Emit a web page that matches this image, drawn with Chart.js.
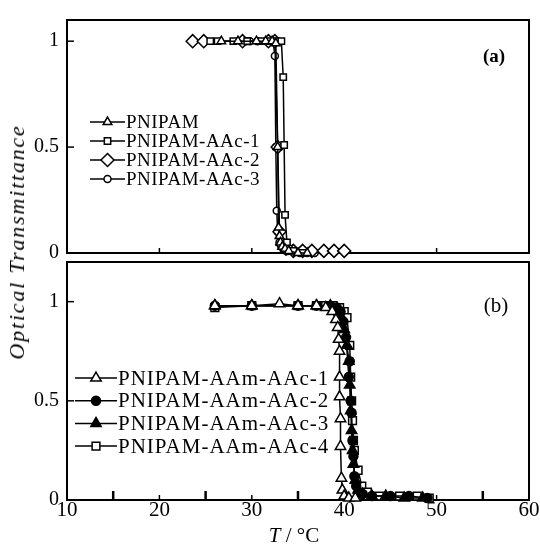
<!DOCTYPE html>
<html><head><meta charset="utf-8">
<script src="https://cdn.jsdelivr.net/npm/chart.js@4.4.1/dist/chart.umd.min.js"></script>
<style>
html,body{margin:0;padding:0;background:#fff;}
#wrap{position:relative;width:540px;height:547px;background:#fff;overflow:hidden;}
canvas{position:absolute;left:0;top:0;}
.lbl{position:absolute;font-family:"Liberation Serif","Times New Roman",serif;color:#000;white-space:nowrap;line-height:1;}
</style></head><body>
<div id="wrap">
<canvas id="ca" width="540" height="547" style="width:540px;height:547px"></canvas>
<canvas id="cb" width="540" height="547" style="width:540px;height:547px"></canvas>
<div class="lbl" id="ytitle" style="left:17px;top:242px;font-size:22px;font-style:italic;letter-spacing:1.8px;transform:translate(-50%,-50%) rotate(-90deg);">Optical Transmittance</div>
<div class="lbl" id="xtitle" style="left:294px;top:535px;font-size:21px;transform:translate(-50%,-50%);"><i>T</i> / °C</div>
<div class="lbl" id="la" style="left:494px;top:55px;font-size:19px;font-weight:bold;transform:translate(-50%,-50%);">(a)</div>
<div class="lbl" id="lb" style="left:496px;top:305px;font-size:21px;transform:translate(-50%,-50%);">(b)</div>
</div>
<script>
// ---------- data ----------
const xTickValues = [10, 20, 30, 40, 50, 60];
const yTickValues = [0, 0.5, 1];
const yTickLabels = ['0', '0.5', '1'];

// panel (a)
const namesA = ['PNIPAM', 'PNIPAM-AAc-1', 'PNIPAM-AAc-2', 'PNIPAM-AAc-3'];
const tA1 = [26.7, 28.5, 30.5, 31.5, 32.2, 32.6, 32.8, 32.9, 33.0, 33.1, 33.3, 33.6, 34.0, 35.0, 36.0];
const yA1 = [1.00, 1.00, 1.00, 1.00, 1.00, 0.99, 0.50, 0.12, 0.08, 0.05, 0.03, 0.02, 0.01, 0.00, 0.00];
const tA2 = [25.5, 26.3, 28.0, 29.5, 31.0, 32.0, 32.6, 33.2, 33.4, 33.5, 33.6, 33.8, 34.0, 34.5, 35.5];
const yA2 = [1.00, 1.00, 1.00, 1.00, 1.00, 1.00, 1.00, 1.00, 0.83, 0.51, 0.18, 0.05, 0.02, 0.01, 0.00];
const tA3 = [23.6, 24.8, 29.0, 31.8, 32.5, 32.8, 33.0, 33.3, 33.7, 34.5, 35.5, 36.5, 37.8, 38.9, 40.0];
const yA3 = [1.00, 1.00, 1.00, 1.00, 1.00, 0.50, 0.10, 0.04, 0.02, 0.01, 0.01, 0.01, 0.01, 0.01, 0.01];
const tA4 = [29.4, 29.8, 30.6, 31.8, 32.3, 32.5, 32.6, 32.7, 32.8, 33.0, 33.2, 33.5, 33.9, 34.4, 35.2, 36.0, 36.8];
const yA4 = [1.00, 1.00, 1.00, 1.00, 1.00, 0.93, 0.50, 0.20, 0.10, 0.05, 0.03, 0.02, 0.01, 0.01, 0.00, 0.00, 0.00];

// panel (b)
const namesB = ['PNIPAM-AAm-AAc-1', 'PNIPAM-AAm-AAc-2', 'PNIPAM-AAm-AAc-3', 'PNIPAM-AAm-AAc-4'];
const tB1 = [26.0, 30.0, 33.0, 35.0, 37.0, 38.0, 38.7, 39.1, 39.3, 39.4, 39.5, 39.5, 39.5, 39.6, 39.6, 39.7, 39.8, 40.0, 40.5, 41.2];
const yB1 = [0.98, 0.98, 0.99, 0.98, 0.98, 0.97, 0.95, 0.91, 0.87, 0.81, 0.75, 0.62, 0.52, 0.41, 0.27, 0.11, 0.05, 0.02, 0.01, 0.01];
const tB2 = [26.0, 30.0, 35.0, 37.0, 38.5, 39.2, 39.6, 39.9, 40.2, 40.5, 40.6, 40.7, 40.8, 40.9, 41.0, 41.1, 41.3, 41.6, 42.0, 43.0, 45.0, 47.0, 49.0];
const yB2 = [0.98, 0.98, 0.98, 0.98, 0.98, 0.97, 0.95, 0.90, 0.82, 0.62, 0.70, 0.50, 0.44, 0.30, 0.22, 0.12, 0.07, 0.04, 0.03, 0.02, 0.02, 0.02, 0.01];
const tB3 = [26.0, 30.0, 35.0, 37.0, 38.5, 39.2, 39.6, 40.0, 40.3, 40.5, 40.6, 40.7, 40.8, 40.9, 41.0, 41.2, 41.5, 42.0, 43.0, 44.5, 46.5, 48.5];
const yB3 = [0.98, 0.98, 0.98, 0.98, 0.98, 0.96, 0.93, 0.86, 0.78, 0.70, 0.58, 0.45, 0.35, 0.25, 0.18, 0.10, 0.05, 0.03, 0.02, 0.02, 0.01, 0.01];
const tB4 = [26.0, 30.0, 35.0, 37.0, 38.0, 38.8, 39.5, 40.0, 40.3, 40.6, 40.7, 40.8, 40.9, 41.0, 41.1, 41.5, 41.9, 42.5, 43.8, 46.0, 47.9, 49.2];
const yB4 = [0.97, 0.98, 0.98, 0.98, 0.98, 0.98, 0.97, 0.95, 0.92, 0.78, 0.62, 0.50, 0.40, 0.30, 0.25, 0.15, 0.07, 0.04, 0.02, 0.02, 0.02, 0.01];

// ---------- helpers ----------
const FONT = '"Liberation Serif", "Times New Roman", serif';
const pts = (xs, ys) => xs.map((x, i) => ({x, y: ys[i]}));

function marker(ctx, style, r, x, y, fill) {
  ctx.beginPath();
  if (style === 'triangle') {
    let rad = 0;
    for (let k = 0; k < 3; k++) {
      const px = x + Math.sin(rad) * r, py = y - Math.cos(rad) * r;
      k ? ctx.lineTo(px, py) : ctx.moveTo(px, py);
      rad += 2 * Math.PI / 3;
    }
    ctx.closePath();
  } else if (style === 'rect') {
    const s = Math.SQRT1_2 * r;
    ctx.rect(x - s, y - s, 2 * s, 2 * s);
  } else if (style === 'rectRot') {
    ctx.moveTo(x, y - r); ctx.lineTo(x + r, y); ctx.lineTo(x, y + r); ctx.lineTo(x - r, y); ctx.closePath();
  } else {
    ctx.arc(x, y, r, 0, Math.PI * 2);
  }
  ctx.fillStyle = fill; ctx.fill(); ctx.stroke();
}

const framePlugin = {
  id: 'frame',
  beforeDatasetsDraw(chart, args, o) {
    const {ctx, chartArea: a, scales} = chart;
    ctx.save();
    ctx.strokeStyle = '#000';
    ctx.lineWidth = 2;
    ctx.strokeRect(a.left, a.top, a.right - a.left, a.bottom - a.top);
    ctx.lineWidth = 1.5;
    o.yTicks.forEach(v => {
      const y = scales.y.getPixelForValue(v);
      ctx.beginPath(); ctx.moveTo(a.left, y); ctx.lineTo(a.left + 7, y); ctx.stroke();
    });
    o.xSmall.forEach(v => {
      const x = scales.x.getPixelForValue(v);
      ctx.beginPath(); ctx.moveTo(x, a.bottom); ctx.lineTo(x, a.bottom - 5); ctx.stroke();
    });
    ctx.lineWidth = 2.5;
    o.xBig.forEach(v => {
      const x = scales.x.getPixelForValue(v);
      ctx.beginPath(); ctx.moveTo(x, a.bottom); ctx.lineTo(x, a.bottom - 9); ctx.stroke();
    });
    ctx.restore();
  }
};

const legendPlugin = {
  id: 'lineLegend',
  afterDatasetsDraw(chart, args, o) {
    const {ctx} = chart;
    ctx.save();
    ctx.font = o.font;
    if ('letterSpacing' in ctx) ctx.letterSpacing = o.spacing;
    ctx.textBaseline = 'middle';
    chart.data.datasets.forEach((ds, i) => {
      const y = o.y0 + i * o.dy;
      ctx.strokeStyle = '#000'; ctx.lineWidth = 1.5;
      ctx.beginPath(); ctx.moveTo(o.x0, y); ctx.lineTo(o.x1, y); ctx.stroke();
      marker(ctx, ds.pointStyle, ds.pointRadius, (o.x0 + o.x1) / 2, y, ds.pointBackgroundColor);
      ctx.fillStyle = '#000';
      ctx.fillText(ds.label, o.x1 + 1, y + 1);
    });
    ctx.restore();
  }
};

function ds(label, xs, ys, style, r, fill) {
  return {
    label, data: pts(xs, ys), showLine: true,
    borderColor: '#000', borderWidth: 1.5, backgroundColor: fill,
    pointStyle: style, pointRadius: r, pointHoverRadius: r,
    pointBackgroundColor: fill, pointBorderColor: '#000', pointBorderWidth: 1.5,
    clip: false, tension: 0
  };
}

function yAxis(max) {
  return {
    type: 'linear', min: 0, max,
    afterBuildTicks: s => { s.ticks = yTickValues.map(v => ({value: v})); },
    afterFit: s => { s.width = 67; },
    grid: {display: false, drawTicks: false}, border: {display: false},
    ticks: {
      color: '#000', font: {family: FONT, size: 20}, padding: 8,
      callback: v => yTickLabels[yTickValues.indexOf(v)]
    }
  };
}

// ---------- chart (a) ----------
new Chart(document.getElementById('ca'), {
  type: 'scatter',
  data: {datasets: [
    ds(namesA[0], tA1, yA1, 'triangle', 5, '#fff'),
    ds(namesA[1], tA2, yA2, 'rect', 4.5, '#fff'),
    ds(namesA[2], tA3, yA3, 'rectRot', 6.5, '#fff'),
    ds(namesA[3], tA4, yA4, 'circle', 3.5, '#fff')
  ]},
  options: {
    responsive: false, animation: false, devicePixelRatio: 1,
    layout: {padding: {left: 0, right: 11, top: 15, bottom: 294}},
    plugins: {
      legend: {display: false}, tooltip: {enabled: false},
      frame: {yTicks: [0.5, 1], xSmall: [20, 30, 40, 50], xBig: []},
      lineLegend: {x0: 90, x1: 125, y0: 122, dy: 19, font: '19px ' + FONT, spacing: '0.5px'}
    },
    scales: {
      x: {type: 'linear', min: 10, max: 60, display: false},
      y: yAxis(1.1)
    }
  },
  plugins: [framePlugin, legendPlugin]
});

// ---------- chart (b) ----------
new Chart(document.getElementById('cb'), {
  type: 'scatter',
  data: {datasets: [
    ds(namesB[0], tB1, yB1, 'triangle', 6, '#fff'),
    ds(namesB[1], tB2, yB2, 'circle', 4.5, '#000'),
    ds(namesB[2], tB3, yB3, 'triangle', 6, '#000'),
    ds(namesB[3], tB4, yB4, 'rect', 5.5, '#fff')
  ]},
  options: {
    responsive: false, animation: false, devicePixelRatio: 1,
    layout: {padding: {left: 0, right: 11, top: 262, bottom: 0}},
    plugins: {
      legend: {display: false}, tooltip: {enabled: false},
      frame: {yTicks: [0.5, 1], xSmall: [20, 30, 40, 50], xBig: [15, 25, 35, 45, 55]},
      lineLegend: {x0: 75, x1: 117, y0: 378, dy: 22.7, font: '21px ' + FONT, spacing: '1px'}
    },
    scales: {
      x: {
        type: 'linear', min: 10, max: 60,
        afterBuildTicks: s => { s.ticks = xTickValues.map(v => ({value: v})); },
        afterFit: s => { s.height = 47; },
        grid: {display: false, drawTicks: false}, border: {display: false},
        ticks: {color: '#000', font: {family: FONT, size: 21}, padding: -2, maxRotation: 0, autoSkip: false}
      },
      y: yAxis(1.2)
    }
  },
  plugins: [framePlugin, legendPlugin]
});
</script>
</body></html>
